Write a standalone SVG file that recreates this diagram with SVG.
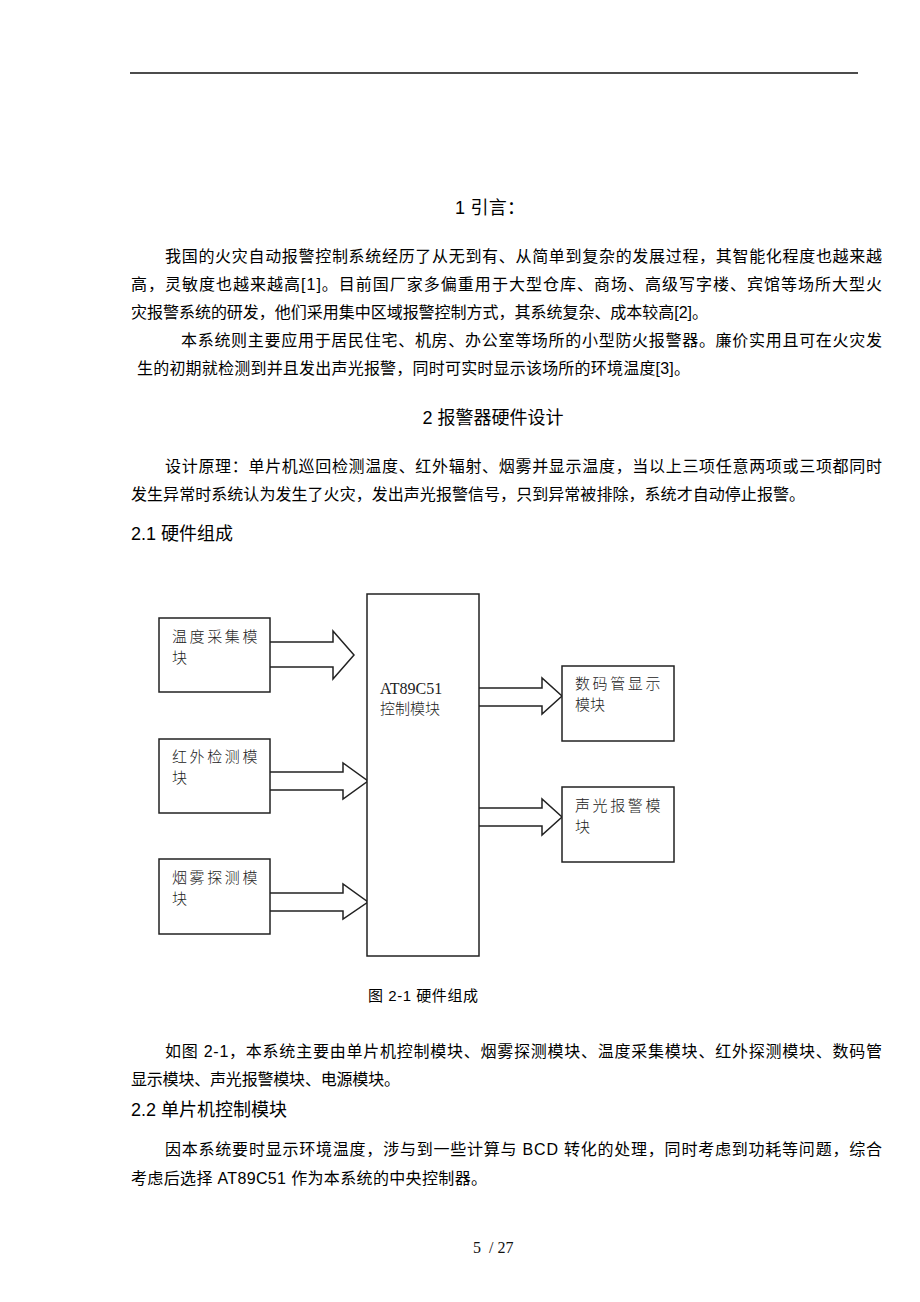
<svg xmlns="http://www.w3.org/2000/svg" width="920" height="1302" viewBox="0 0 920 1302">
<style>
.b{font-family:"Liberation Sans","Noto Sans CJK SC",sans-serif;font-size:16px;fill:#000}
.h{font-family:"Liberation Sans","Noto Sans CJK SC",sans-serif;font-size:18px;fill:#000}
.d{font-family:"Liberation Serif","Noto Sans CJK SC",serif;font-size:15px;fill:#222;font-weight:300}
.box{fill:#fff;stroke:#222;stroke-width:1.5}
.arr{fill:#fff;stroke:#222;stroke-width:1.5;stroke-linejoin:miter}
</style>
<rect width="920" height="1302" fill="#fff"/>
<line x1="130" y1="73" x2="858" y2="73" stroke="#111" stroke-width="1.5"/>

<text class="h" x="455" y="214" textLength="70" lengthAdjust="spacing">1 引言：</text>
<text class="b" x="165" y="262" textLength="717" lengthAdjust="spacing">我国的火灾自动报警控制系统经历了从无到有、从简单到复杂的发展过程，其智能化程度也越来越</text>
<text class="b" x="131" y="290" textLength="751" lengthAdjust="spacing">高，灵敏度也越来越高[1]。目前国厂家多偏重用于大型仓库、商场、高级写字楼、宾馆等场所大型火</text>
<text class="b" x="131" y="318" textLength="577" lengthAdjust="spacing">灾报警系统的研发，他们采用集中区域报警控制方式，其系统复杂、成本较高[2]。</text>
<text class="b" x="181" y="346" textLength="701" lengthAdjust="spacing">本系统则主要应用于居民住宅、机房、办公室等场所的小型防火报警器。廉价实用且可在火灾发</text>
<text class="b" x="137" y="374" textLength="553" lengthAdjust="spacing">生的初期就检测到并且发出声光报警，同时可实时显示该场所的环境温度[3]。</text>

<text class="h" x="493" y="424" text-anchor="middle">2 报警器硬件设计</text>
<text class="b" x="165" y="472" textLength="717" lengthAdjust="spacing">设计原理：单片机巡回检测温度、红外辐射、烟雾并显示温度，当以上三项任意两项或三项都同时</text>
<text class="b" x="131" y="500" textLength="674" lengthAdjust="spacing">发生异常时系统认为发生了火灾，发出声光报警信号，只到异常被排除，系统才自动停止报警。</text>
<text class="h" x="131" y="540">2.1 硬件组成</text>

<g id="connectors">
<path class="arr" d="M270,642 H333 V631 L354,655 L333,679 V667 H270"/>
<path class="arr" d="M270,772 H343 V763 L368,781 L343,799 V790 H270"/>
<path class="arr" d="M270,893 H343 V884 L368,902 L343,919 V911 H270"/>
<path class="arr" d="M479,688 H542 V678 L562,696 L542,714 V706 H479"/>
<path class="arr" d="M479,808 H542 V799 L562,817 L542,835 V826 H479"/>
</g>

<g id="n-temp">
<rect class="box" x="159" y="618" width="111" height="74"/>
<text class="d" x="172" y="642" letter-spacing="2.6">温度采集模</text>
<text class="d" x="172" y="663">块</text>
</g>
<g id="n-ir">
<rect class="box" x="159" y="739" width="111" height="74"/>
<text class="d" x="172" y="762" letter-spacing="2.6">红外检测模</text>
<text class="d" x="172" y="783">块</text>
</g>
<g id="n-smoke">
<rect class="box" x="159" y="859" width="111" height="75"/>
<text class="d" x="172" y="883" letter-spacing="2.6">烟雾探测模</text>
<text class="d" x="172" y="904">块</text>
</g>
<g id="n-mcu">
<rect class="box" x="367" y="594" width="112" height="362"/>
<text class="d" x="380" y="694" style="font-size:16px">AT89C51</text>
<text class="d" x="380" y="714">控制模块</text>
</g>
<g id="n-display">
<rect class="box" x="562" y="666" width="112" height="75"/>
<text class="d" x="575" y="689" letter-spacing="2.6">数码管显示</text>
<text class="d" x="575" y="710">模块</text>
</g>
<g id="n-alarm">
<rect class="box" x="562" y="787" width="112" height="75"/>
<text class="d" x="575" y="811" letter-spacing="2.6">声光报警模</text>
<text class="d" x="575" y="832">块</text>
</g>

<text class="b" x="368" y="1001" style="font-size:15px" textLength="110" lengthAdjust="spacing">图 2-1 硬件组成</text>

<text class="b" x="165" y="1057" textLength="717" lengthAdjust="spacing">如图 2-1，本系统主要由单片机控制模块、烟雾探测模块、温度采集模块、红外探测模块、数码管</text>
<text class="b" x="131" y="1085" textLength="269" lengthAdjust="spacing">显示模块、声光报警模块、电源模块。</text>
<text class="h" x="131" y="1116">2.2 单片机控制模块</text>
<text class="b" x="165" y="1155" textLength="717" lengthAdjust="spacing">因本系统要时显示环境温度，涉与到一些计算与 BCD 转化的处理，同时考虑到功耗等问题，综合</text>
<text class="b" x="131" y="1184" textLength="356" lengthAdjust="spacing">考虑后选择 AT89C51 作为本系统的中央控制器。</text>

<text x="473" y="1253" style="font-family:'Liberation Serif',serif;font-size:16px;fill:#111">5<tspan dx="8">/ 27</tspan></text>
</svg>
